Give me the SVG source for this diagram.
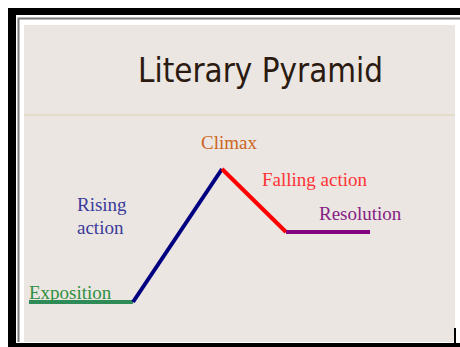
<svg xmlns="http://www.w3.org/2000/svg" width="460" height="347" viewBox="0 0 460 347">
  <style>
    .lbl { font-family: "Liberation Serif", "Times New Roman", serif; font-size: 19px; }
    .seg { fill: none; stroke-width: 4; stroke-linecap: butt; stroke-linejoin: miter; }
  </style>
  <rect x="0" y="0" width="460" height="347" fill="#ffffff"/>
  <g id="frame">
    <rect x="8" y="8" width="452" height="339" fill="#000000"/>
    <rect x="16" y="15" width="444" height="328" fill="#ffffff"/>
    <path d="M18.5,342 V18.5 H460" fill="none" stroke="#7a7a7a" stroke-width="2"/>
    <rect x="24" y="25" width="431" height="317" fill="#ebe6e2"/>
    <line x1="24" y1="115" x2="455" y2="115" stroke="#e0d8c0" stroke-width="1.5"/>
    <line x1="455" y1="328" x2="455" y2="343" stroke="#000000" stroke-width="2"/>
  </g>
  <g id="title">
    <text x="138" y="82" font-family="DejaVu Sans, Verdana, sans-serif" font-size="33" fill="#2a1a10" textLength="245" lengthAdjust="spacingAndGlyphs">Literary Pyramid</text>
  </g>
  <g id="connectors">
    <polyline class="seg" stroke="#2e8b57" points="29,302 133,302"/>
    <polyline class="seg" stroke="#000080" points="133,302 222,169"/>
    <polyline class="seg" stroke="#ff0000" points="222,169 286,232"/>
    <polyline class="seg" stroke="#800080" points="286,232 370,232"/>
  </g>
  <g id="exposition">
    <text class="lbl" x="29" y="299" fill="#2e9040">Exposition</text>
  </g>
  <g id="rising">
    <text class="lbl" x="77" y="211" fill="#3a3a9a">Rising</text>
    <text class="lbl" x="77" y="234" fill="#3a3a9a">action</text>
  </g>
  <g id="climax">
    <text class="lbl" x="201" y="149" fill="#cc6622">Climax</text>
  </g>
  <g id="falling">
    <text class="lbl" x="262" y="186" fill="#ff3333">Falling action</text>
  </g>
  <g id="resolution">
    <text class="lbl" x="319" y="220" fill="#852085">Resolution</text>
  </g>
</svg>
